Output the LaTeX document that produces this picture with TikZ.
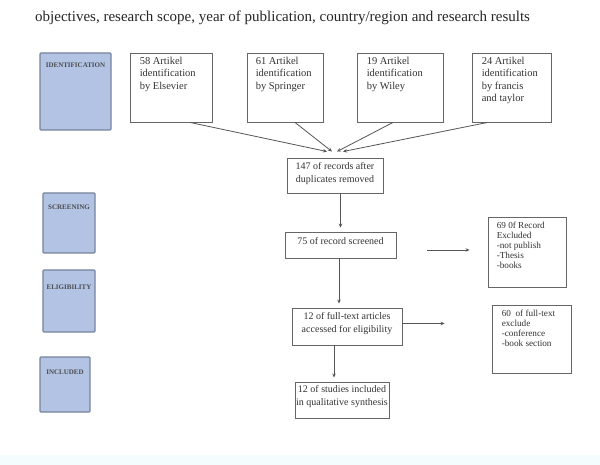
\documentclass[tikz,border=0pt]{standalone}
\usepackage{fontspec}
\setmainfont{Liberation Serif}
\usetikzlibrary{arrows.meta,calc}
\definecolor{phase}{HTML}{B2C3E4}
\definecolor{phaseline}{HTML}{77849C}
\definecolor{boxline}{HTML}{666666}
\definecolor{arrline}{HTML}{555555}
\tikzset{
  phasebox/.style={draw=phaseline,line width=1.3pt,fill=phase,rounded corners=1pt,inner sep=0pt},
  phaselabel/.style={font=\fontsize{7}{7}\selectfont\bfseries,text=black!70,inner sep=0pt,anchor=north},
  flowbox/.style={draw=boxline,line width=0.9pt,fill=white,inner sep=0pt},
  boxtext/.style={font=\fontsize{10.5}{12.5}\selectfont,align=left,inner sep=0pt,anchor=north west,text=black!80},
  ctext/.style={font=\fontsize{10}{13}\selectfont,align=center,inner sep=0pt,anchor=north,text=black!80},
  extext/.style={font=\fontsize{9.2}{10}\selectfont,align=left,inner sep=0pt,anchor=north west,text=black!80},
  arr/.style={draw=arrline,line width=0.8pt,-{Stealth[length=4pt,width=3.5pt]}}
}
\begin{document}
\begin{tikzpicture}[x=1pt,y=-1pt]
\useasboundingbox (0,0) rectangle (600,465);
\fill[white] (0,0) rectangle (600,465);
\fill[cyan!4] (0,455) rectangle (600,465);

% title
\node[font=\fontsize{15}{17}\selectfont,anchor=west,inner sep=0pt,text=black!85] (title) at (35,18) {objectives, research scope, year of publication, country/region and research results};

% phase boxes
\node[phasebox,minimum width=71pt,minimum height=77pt] (pid) at (75.5,91.5) {};
\node[phaselabel] (lid) at ([yshift=-10pt]pid.north) {IDENTIFICATION};
\node[phasebox,minimum width=52pt,minimum height=60pt] (psc) at (69,223) {};
\node[phaselabel] (lsc) at ([yshift=-12pt]psc.north) {SCREENING};
\node[phasebox,minimum width=52pt,minimum height=62pt] (pel) at (69,301) {};
\node[phaselabel] (lel) at ([yshift=-15pt]pel.north) {ELIGIBILITY};
\node[phasebox,minimum width=50pt,minimum height=55pt] (pin) at (65,384.5) {};
\node[phaselabel] (lin) at ([yshift=-13pt]pin.north) {INCLUDED};

% identification boxes
\node[flowbox,minimum width=82pt,minimum height=69pt] (els) at (171,87.5) {};
\node[boxtext] (tels) at ([xshift=10pt,yshift=-4pt]els.north west) {58 Artikel\\identification\\by Elsevier};
\node[flowbox,minimum width=76pt,minimum height=69pt] (spr) at (285,87.5) {};
\node[boxtext] (tspr) at ([xshift=9pt,yshift=-4pt]spr.north west) {61 Artikel\\identification\\by Springer};
\node[flowbox,minimum width=86pt,minimum height=69pt] (wil) at (400,87.5) {};
\node[boxtext] (twil) at ([xshift=10pt,yshift=-4pt]wil.north west) {19 Artikel\\identification\\by Wiley};
\node[flowbox,minimum width=79pt,minimum height=69pt] (fra) at (511.5,87.5) {};
\node[boxtext] (tfra) at ([xshift=10pt,yshift=-4pt]fra.north west) {24 Artikel\\identification\\by francis\\and taylor};

% main flow
\node[flowbox,minimum width=96pt,minimum height=35pt] (rec) at (335,175.5) {};
\node[ctext] (trec) at ([yshift=-5pt]rec.north) {147 of records after\\duplicates removed};
\node[flowbox,minimum width=111pt,minimum height=26pt] (scr) at (340.5,245) {};
\node[ctext] (tscr) at ([yshift=-6pt]scr.north) {75 of record screened};
\node[flowbox,minimum width=110pt,minimum height=37pt] (ful) at (347,326.5) {};
\node[ctext] (tful) at ([yshift=-5pt]ful.north) {12 of full-text articles\\accessed for eligibility};
\node[flowbox,minimum width=94pt,minimum height=36pt] (inc) at (342,400) {};
\node[ctext] (tinc) at ([yshift=-4pt]inc.north) {12 of studies included\\in qualitative synthesis};

% exclusion boxes
\node[flowbox,minimum width=78pt,minimum height=70pt] (ex1) at (527,252) {};
\node[extext] (tex1) at ([xshift=9pt,yshift=-5pt]ex1.north west) {69 0f Record\\Excluded\\-not publish\\-Thesis\\-books};
\node[flowbox,minimum width=79pt,minimum height=68pt] (ex2) at (531.5,339) {};
\node[extext] (tex2) at ([xshift=10pt,yshift=-5pt]ex2.north west) {60\ \ of full-text\\exclude\\-conference\\-book section};

% connectors
\draw[arr] ([xshift=19pt]els.south) -- ([xshift=-8pt,yshift=6pt]rec.north);
\draw[arr] ([xshift=10pt]spr.south) -- ([xshift=-3pt,yshift=6pt]rec.north);
\draw[arr] ([xshift=-7pt]wil.south) -- ([xshift=2pt,yshift=6pt]rec.north);
\draw[arr] ([xshift=-24pt]fra.south) -- ([xshift=8pt,yshift=6pt]rec.north);
\draw[arr,shorten >=4pt] (rec.south -| scr.north) -- (scr.north);
\draw[arr,shorten >=4pt] ([xshift=-1.5pt]scr.south) -- ([xshift=-1.5pt]scr.south |- ful.north);
\draw[arr,shorten >=4pt] ([xshift=-13pt]ful.south) -- ([xshift=-13pt]ful.south |- inc.north);
\draw[arr,shorten <=31pt,shorten >=18pt] ([yshift=-5pt]scr.east) -- ([yshift=-5pt]scr.east -| ex1.west);
\draw[arr,shorten >=47pt] ([yshift=3pt]ful.east) -- ([yshift=3pt]ful.east -| ex2.west);
\end{tikzpicture}
\end{document}
